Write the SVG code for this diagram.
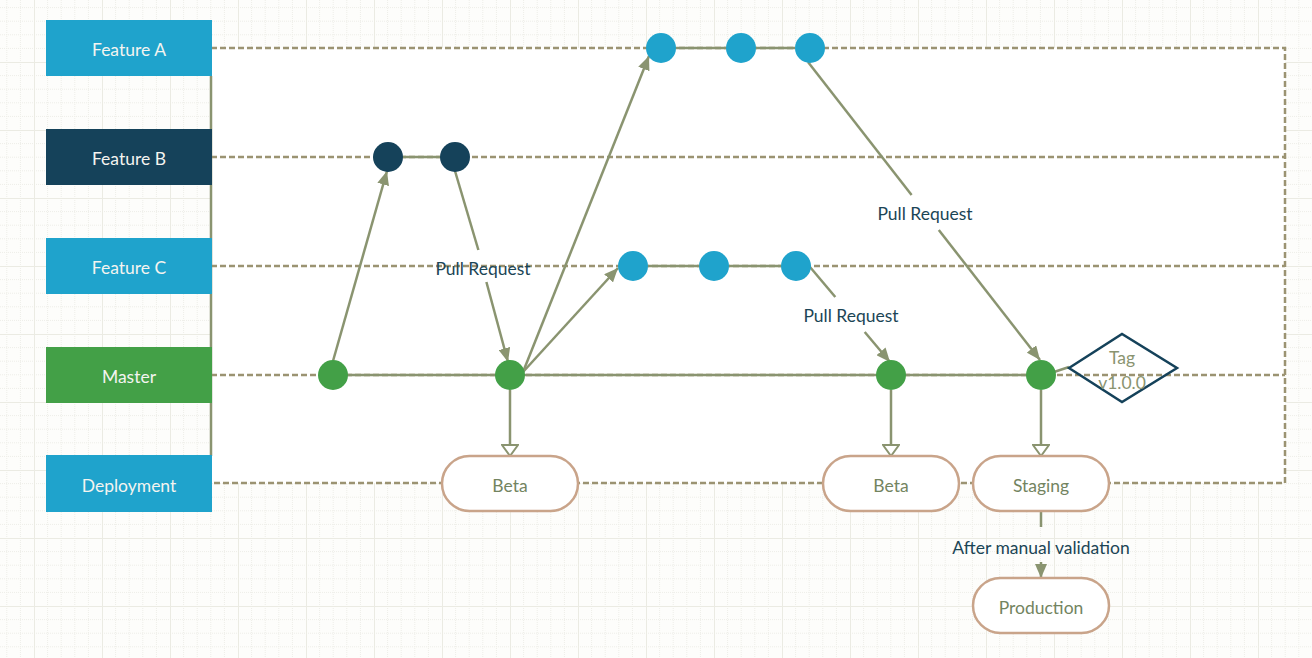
<svg xmlns="http://www.w3.org/2000/svg" width="1312" height="658" viewBox="0 0 1312 658">
<defs>
<pattern id="grid" x="34" y="62" width="68" height="68" patternUnits="userSpaceOnUse">
<path d="M13.6 0V68M27.2 0V68M40.8 0V68M54.4 0V68M0 13.6H68M0 27.2H68M0 40.8H68M0 54.4H68" stroke="#eeeee8" stroke-width="1" stroke-dasharray="1 1" fill="none"/>
<path d="M0 0V68M0 0H68" stroke="#ebebe3" stroke-width="2" fill="none"/>
</pattern>
<marker id="arrow" viewBox="0 0 14 12" refX="14" refY="6" markerWidth="14" markerHeight="12" markerUnits="userSpaceOnUse" orient="auto">
<path d="M0 0L14 6L0 12z" fill="#8a9470"/>
</marker>
<marker id="open" viewBox="0 0 13 18" refX="12" refY="9" markerWidth="13" markerHeight="18" markerUnits="userSpaceOnUse" orient="auto">
<path d="M1 1L12 9L1 17z" fill="#fff" stroke="#8a9470" stroke-width="2"/>
</marker>
</defs>
<style>
.lane{fill:#1fa3cc}
.lt{font-family:Lato,"Open Sans","Liberation Sans",sans-serif;font-size:17.5px;fill:#f4f4f0;text-anchor:middle;dominant-baseline:central}
.dash{fill:none;stroke:#9b9372;stroke-width:2.5;stroke-dasharray:6 3}
.con{fill:none;stroke:#8a9470;stroke-width:2.5}
.lbl{font-family:Lato,"Open Sans","Liberation Sans",sans-serif;font-size:17.5px;fill:#1b4556;text-anchor:middle;dominant-baseline:central}
.term{fill:#fff;stroke:#c9a48a;stroke-width:2.5}
.tt{font-family:Lato,"Open Sans","Liberation Sans",sans-serif;font-size:17.5px;fill:#73845f;text-anchor:middle;dominant-baseline:central}
.ca{fill:#1fa3cc}.cb{fill:#15425a}.cm{fill:#43a047}
</style>
<rect width="1312" height="658" fill="#fdfdfb"/>
<rect width="1312" height="658" fill="url(#grid)"/>
<rect x="211" y="48" width="1074" height="435" fill="#fff"/>

<g id="lanes-lines">
<path class="dash" d="M211 48H1285V483H211"/>
<path class="dash" d="M211 157H1285M211 266H1285M211 375H1285"/>
<path d="M211 76V456" stroke="#8a9470" stroke-width="2.5" fill="none"/>
</g>

<g id="connectors">
<path class="con" d="M333 375H1041"/>
<path class="con" d="M676 48H726M756 48H795"/>
<path class="con" d="M403 157H440"/>
<path class="con" d="M648 266H699M729 266H781"/>
<path class="con" d="M333 361L387 171" marker-end="url(#arrow)"/>
<path class="con" d="M455 171L478.4 250"/>
<path class="con" d="M486.4 282L508 362" marker-end="url(#arrow)"/>
<path class="con" d="M523 372L649 56" marker-end="url(#arrow)"/>
<path class="con" d="M523 372L618 268" marker-end="url(#arrow)"/>
<path class="con" d="M808 62L911.6 195"/>
<path class="con" d="M938.8 230L1040 360" marker-end="url(#arrow)"/>
<path class="con" d="M810 267L835.3 297"/>
<path class="con" d="M864.7 332L890 362" marker-end="url(#arrow)"/>
<path class="con" d="M1054 372L1069 367"/>
<path class="con" d="M510 390V456" marker-end="url(#open)"/>
<path class="con" d="M891 390V456" marker-end="url(#open)"/>
<path class="con" d="M1041 390V456" marker-end="url(#open)"/>
<path class="con" d="M1041 511V527"/>
<path class="con" d="M1041 562V578" marker-end="url(#arrow)"/>
<text class="lbl" x="483" y="268">Pull Request</text>
<text class="lbl" x="925" y="213">Pull Request</text>
<text class="lbl" x="851" y="315">Pull Request</text>
<text class="lbl" x="1041" y="547">After manual validation</text>
</g>

<g id="lane-feature-a"><rect class="lane" x="46" y="20" width="166" height="56"/><text class="lt" x="129" y="49">Feature A</text></g>
<g id="lane-feature-b"><rect x="46" y="129" width="166" height="56" fill="#15425a"/><text class="lt" x="129" y="158">Feature B</text></g>
<g id="lane-feature-c"><rect class="lane" x="46" y="238" width="166" height="56"/><text class="lt" x="129" y="267">Feature C</text></g>
<g id="lane-master"><rect x="46" y="347" width="166" height="56" fill="#43a047"/><text class="lt" x="129" y="376">Master</text></g>
<g id="lane-deployment"><rect class="lane" x="46" y="455" width="166" height="57"/><text class="lt" x="129" y="485">Deployment</text></g>

<g id="commit-a1"><circle class="ca" cx="661" cy="48" r="15"/></g>
<g id="commit-a2"><circle class="ca" cx="741" cy="48" r="15"/></g>
<g id="commit-a3"><circle class="ca" cx="810" cy="48" r="15"/></g>
<g id="commit-b1"><circle class="cb" cx="388" cy="157" r="15"/></g>
<g id="commit-b2"><circle class="cb" cx="455" cy="157" r="15"/></g>
<g id="commit-c1"><circle class="ca" cx="633" cy="266" r="15"/></g>
<g id="commit-c2"><circle class="ca" cx="714" cy="266" r="15"/></g>
<g id="commit-c3"><circle class="ca" cx="796" cy="266" r="15"/></g>
<g id="commit-m1"><circle class="cm" cx="333" cy="375" r="15"/></g>
<g id="commit-m2"><circle class="cm" cx="510" cy="375" r="15"/></g>
<g id="commit-m3"><circle class="cm" cx="891" cy="375" r="15"/></g>
<g id="commit-m4"><circle class="cm" cx="1041" cy="375" r="15"/></g>

<g id="tag"><path d="M1069 368L1122 334L1177 368L1122 402z" fill="none" stroke="#15425a" stroke-width="2.5"/><text class="tt" x="1122" y="357" style="fill:#8a9470">Tag</text><text class="tt" x="1122" y="382" style="fill:#8a9470">v1.0.0</text></g>

<g id="deploy-beta-1"><rect class="term" x="442" y="456" width="136" height="55" rx="27.5"/><text class="tt" x="510" y="485">Beta</text></g>
<g id="deploy-beta-2"><rect class="term" x="823" y="456" width="136" height="55" rx="27.5"/><text class="tt" x="891" y="485">Beta</text></g>
<g id="deploy-staging"><rect class="term" x="973" y="456" width="136" height="55" rx="27.5"/><text class="tt" x="1041" y="485">Staging</text></g>
<g id="deploy-production"><rect class="term" x="973" y="578" width="136" height="55" rx="27.5"/><text class="tt" x="1041" y="607">Production</text></g>
</svg>
